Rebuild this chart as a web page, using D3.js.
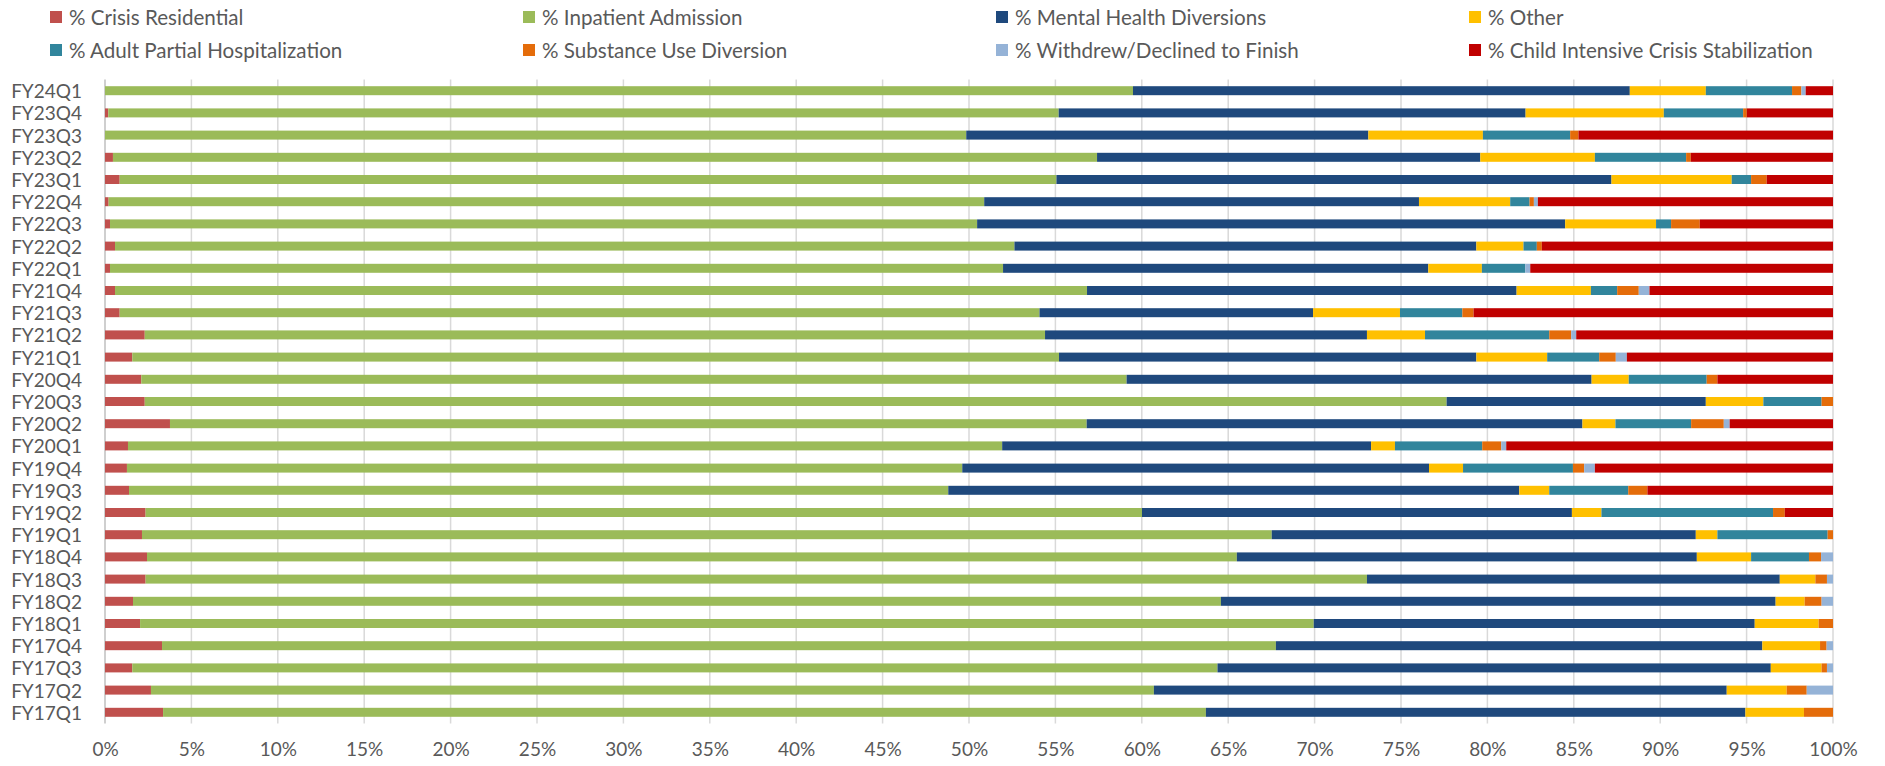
<!DOCTYPE html>
<html>
<head>
<meta charset="utf-8">
<script src="https://cdn.jsdelivr.net/npm/d3@7"></script>
<style>
  html, body { margin: 0; padding: 0; background: #fff; }
  svg { display: block; }
  text { font-family: Lato, "Open Sans", sans-serif; fill: #595959; }
</style>
</head>
<body>
<svg id="chart" width="1885" height="766"></svg>
<script>
const categories = ["FY24Q1","FY23Q4","FY23Q3","FY23Q2","FY23Q1","FY22Q4","FY22Q3","FY22Q2","FY22Q1","FY21Q4","FY21Q3","FY21Q2","FY21Q1","FY20Q4","FY20Q3","FY20Q2","FY20Q1","FY19Q4","FY19Q3","FY19Q2","FY19Q1","FY18Q4","FY18Q3","FY18Q2","FY18Q1","FY17Q4","FY17Q3","FY17Q2","FY17Q1"];

const seriesNames = ["% Crisis Residential","% Inpatient Admission","% Mental Health Diversions","% Other","% Adult Partial Hospitalization","% Substance Use Diversion","% Withdrew/Declined to Finish","% Child Intensive Crisis Stabilization"];

const crisisResidential = [0,0.19,0,0.46,0.85,0.21,0.29,0.58,0.29,0.58,0.85,2.30,1.58,2.10,2.30,3.76,1.33,1.27,1.39,2.35,2.14,2.43,2.35,1.62,2.03,3.30,1.58,2.66,3.36];
const inpatientAdmission = [59.49,55.00,49.84,56.95,54.21,50.67,50.18,52.05,51.68,56.25,53.23,52.10,53.63,57.02,75.34,53.05,50.59,48.34,47.41,57.66,65.38,63.07,70.68,62.96,67.92,64.46,62.80,58.04,60.35];
const mentalHealthDiversions = [28.75,27.02,23.27,22.18,32.12,25.16,34.03,26.73,24.61,24.86,15.83,18.63,24.15,26.91,15.00,28.69,21.35,27.01,33.04,24.88,24.54,26.62,23.89,32.10,25.52,28.15,32.02,33.15,31.22];
const other = [4.40,8.00,6.63,6.63,6.96,5.28,5.26,2.73,3.10,4.30,5.03,3.36,4.10,2.15,3.33,1.91,1.38,1.97,1.74,1.71,1.25,3.14,2.06,1.68,3.70,3.34,2.94,3.47,3.39];
const adultPartialHosp = [4.99,4.59,5.05,5.28,1.12,1.12,0.87,0.77,2.51,1.52,3.61,7.19,3.01,4.51,3.37,4.38,5.05,6.36,4.57,9.93,6.38,3.35,0,0,0,0,0,0,0];
const substanceUseDiversion = [0.54,0.21,0.48,0.27,0.90,0.25,1.66,0.29,0,1.25,0.65,1.27,0.96,0.62,0.66,1.89,1.10,0.65,1.11,0.68,0.31,0.70,0.67,0.98,0.83,0.38,0.31,1.16,1.68];
const withdrewDeclined = [0.25,0,0,0,0,0.23,0,0,0.29,0.62,0,0.29,0.64,0,0,0.34,0.29,0.62,0,0,0,0.69,0.35,0.66,0,0.37,0.35,1.52,0];
const childIntensive = [1.58,4.99,14.73,8.23,3.84,17.08,7.71,16.85,17.52,10.62,20.80,14.86,11.93,6.69,0,5.98,18.91,13.78,10.74,2.79,0,0,0,0,0,0,0,0,0];

const tickValues = [0,5,10,15,20,25,30,35,40,45,50,55,60,65,70,75,80,85,90,95,100];
const colors = ["#C0504D","#9BBB59","#1F497D","#FFC000","#31859C","#E46C0A","#95B3D7","#C00000"];

const seriesArrays = [crisisResidential, inpatientAdmission, mentalHealthDiversions, other, adultPartialHosp, substanceUseDiversion, withdrewDeclined, childIntensive];

const rows = categories.map((c, i) => {
  const r = { cat: c };
  const vals = seriesArrays.map(a => a[i]);
  const total = d3.sum(vals);
  seriesNames.forEach((s, k) => r[s] = vals[k] / total * 100);
  return r;
});

const svg = d3.select("#chart");
const x = d3.scaleLinear().domain([0, 100]).range([105, 1833]);
const y = d3.scaleBand().domain(categories).range([79.6, 723.4]).paddingInner(0.595).paddingOuter(0.2975);

// gridlines
svg.append("g").selectAll("line").data(tickValues).join("line")
  .attr("x1", d => x(d)).attr("x2", d => x(d))
  .attr("y1", 79.6).attr("y2", 723.4)
  .attr("stroke", d => d === 0 ? "#BFBFBF" : "#D9D9D9")
  .attr("stroke-width", 1.5);

const stack = d3.stack().keys(seriesNames);
const stacked = stack(rows);

svg.append("g").selectAll("g").data(stacked).join("g")
  .attr("fill", (d, i) => colors[i])
  .selectAll("rect").data(d => d).join("rect")
  .attr("x", d => x(d[0]))
  .attr("width", d => Math.max(0, x(d[1]) - x(d[0])))
  .attr("y", d => y(d.data.cat))
  .attr("height", y.bandwidth());

// y-axis labels
svg.append("g").selectAll("text").data(categories).join("text")
  .attr("x", 82).attr("y", d => y(d) + y.bandwidth() / 2)
  .attr("text-anchor", "end").attr("dominant-baseline", "central")
  .style("font-size", "19px")
  .text(d => d);

// x-axis
const xAxis = d3.axisBottom(x).tickValues(tickValues).tickFormat(d => d + "%").tickSize(0).tickPadding(0);
const gx = svg.append("g").attr("transform", "translate(0,748)").call(xAxis);
gx.select(".domain").remove();
gx.selectAll("text").attr("dy", null).attr("dominant-baseline", "central")
  .style("font-size", "19px").style("font-family", "Lato, sans-serif").attr("fill", "#595959");

// legend
const legend = svg.append("g");
seriesNames.forEach((s, i) => {
  const col = i % 4, row = Math.floor(i / 4);
  const lx = 50 + 473 * col, ly = 17 + 33 * row;
  legend.append("rect").attr("x", lx).attr("y", ly - 6).attr("width", 12).attr("height", 12).attr("fill", colors[i]);
  legend.append("text").attr("x", lx + 19).attr("y", ly).attr("dominant-baseline", "central")
    .style("font-size", "20.6px").text(s);
});
</script>
</body>
</html>
